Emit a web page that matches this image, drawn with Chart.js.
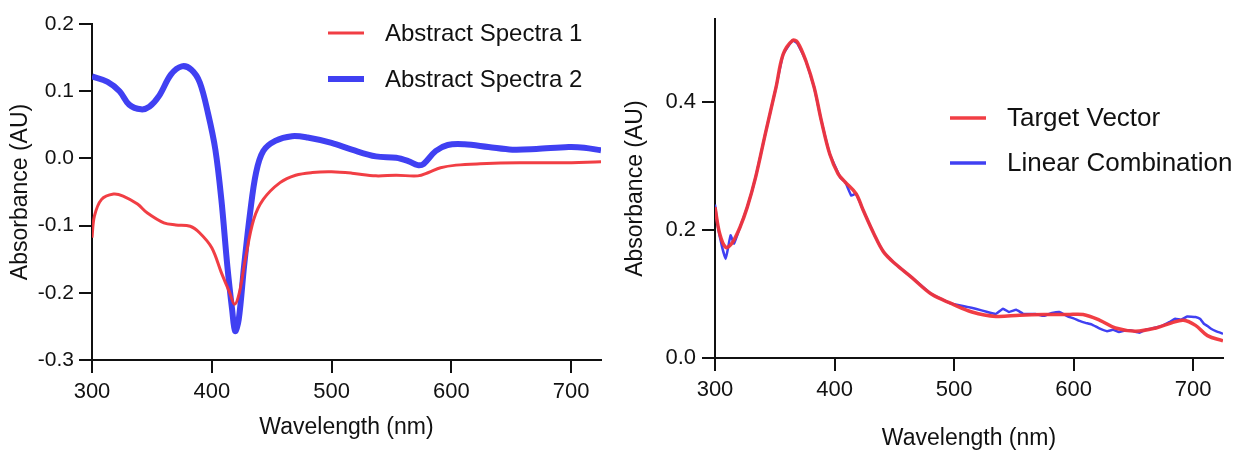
<!DOCTYPE html>
<html>
<head>
<meta charset="utf-8">
<script src="https://cdn.jsdelivr.net/npm/chart.js@4"></script>
<style>
  body { margin: 0; background: #fff; }
  .wrap { position: absolute; top: 0; height: 452px; }
</style>
</head>
<body>
<div class="wrap" style="left:0;width:620px"><canvas id="abstractChart"></canvas></div>
<div class="wrap" style="left:620px;width:627px"><canvas id="fitChart"></canvas></div>
<script>
// left panel: abstract spectra
const spec1X = [300,302,308,318,326,338,346,360,370,382,390,400,408,415,419,423,428,435,443,457,470,484,500,517,537,554,572,581,591,604,624,657,691,725];
const spec1Y = [-0.118,-0.086,-0.061,-0.053,-0.056,-0.068,-0.081,-0.096,-0.099,-0.101,-0.111,-0.133,-0.170,-0.200,-0.217,-0.200,-0.150,-0.091,-0.061,-0.036,-0.025,-0.021,-0.020,-0.022,-0.026,-0.025,-0.026,-0.021,-0.014,-0.010,-0.008,-0.0065,-0.0065,-0.005];

const spec2X = [300,313,323,331,341,348,356,366,375,383,390,397,403,408,413,417,419.5,422.5,427,432,437,443,453,467,480,500,517,537,554,564,572,577,587,597,611,631,651,671,698,711,725];
const spec2Y = [0.122,0.114,0.100,0.080,0.073,0.077,0.093,0.125,0.137,0.132,0.113,0.066,0.013,-0.061,-0.160,-0.225,-0.257,-0.240,-0.160,-0.081,-0.021,0.011,0.026,0.033,0.031,0.023,0.013,0.003,0.001,-0.004,-0.010,-0.008,0.011,0.020,0.021,0.017,0.013,0.014,0.017,0.016,0.012];

// right panel: target vs fit
const targetX = [300,304,309,314,321,327,334,342,351,357,365,369,376,383,389,396,403,409,418,424,433,441,451,464,481,498,515,535,555,575,595,608,622,635,652,669,682,692,702,712,725];
const targetY = [0.236,0.194,0.173,0.179,0.205,0.236,0.283,0.350,0.423,0.475,0.497,0.494,0.465,0.423,0.371,0.319,0.288,0.275,0.257,0.231,0.194,0.166,0.147,0.127,0.100,0.085,0.072,0.065,0.067,0.068,0.068,0.068,0.059,0.047,0.042,0.047,0.055,0.059,0.051,0.035,0.027];

const comboX = [300,302,306,309,311,313,316,321,327,334,342,351,357,365,369,376,383,389,396,401,405,409,414,418,424,433,441,451,464,481,498,511,518,528,535,541,546,552,558,568,575,582,588,595,600,605,610,615,622,628,633,638,643,648,655,660,665,670,675,680,685,690,695,702,706,709,712,715,719,725];
const comboY = [0.240,0.210,0.173,0.155,0.173,0.192,0.179,0.205,0.236,0.283,0.350,0.423,0.475,0.497,0.492,0.465,0.423,0.371,0.319,0.298,0.282,0.275,0.254,0.257,0.231,0.194,0.166,0.147,0.127,0.100,0.085,0.080,0.077,0.072,0.069,0.077,0.072,0.0755,0.069,0.069,0.066,0.0703,0.072,0.065,0.062,0.058,0.055,0.0526,0.0458,0.042,0.044,0.0406,0.043,0.0432,0.0396,0.044,0.0458,0.048,0.051,0.056,0.0615,0.060,0.065,0.064,0.061,0.0536,0.050,0.0458,0.042,0.038];

const xTicks = [300,400,500,600,700];
const leftYTicks = [-0.3,-0.2,-0.1,0.0,0.1,0.2];
const rightYTicks = [0.0,0.2,0.4];

const FONT = "'Liberation Sans', Arial, sans-serif";
const RED = "rgba(240,52,58,0.95)";
const BLUE = "#4040f2";

function pts(xs, ys) { return xs.map((x, i) => ({ x: x, y: ys[i] })); }

// little legend drawn inside plot area
const spotLegend = {
  id: "spotLegend",
  afterDraw(chart, args, opts) {
    const c = chart.ctx;
    c.save();
    c.font = opts.size + "px " + FONT;
    c.textBaseline = "middle";
    chart.data.datasets.forEach((ds, i) => {
      const y = opts.y + i * opts.gap;
      c.strokeStyle = ds.borderColor;
      c.lineWidth = ds.legendWidth || ds.borderWidth;
      c.beginPath();
      c.moveTo(opts.x, y);
      c.lineTo(opts.x + 36, y);
      c.stroke();
      c.fillStyle = "#111";
      c.fillText(ds.label, opts.x + 57, y + 1);
    });
    c.restore();
  }
};

function makeScales(yMin, yMax, yTickList, cfg) {
  const axisCommon = {
    type: "linear",
    grid: { display: true, drawOnChartArea: false, drawTicks: true, tickLength: 13, color: "#111", lineWidth: 2 },
    border: { display: true, color: "#111", width: 2 },
  };
  return {
    x: Object.assign({}, axisCommon, {
      min: 300, max: 725,
      afterBuildTicks: s => { s.ticks = xTicks.map(v => ({ value: v })); },
      afterFit: s => { s.height = cfg.xHeight; },
      ticks: { color: "#111", font: { family: FONT, size: cfg.xTick }, padding: cfg.xTickPad, maxRotation: 0, callback: v => String(v) },
      title: { display: true, text: "Wavelength (nm)", color: "#111", font: { family: FONT, size: cfg.title }, padding: { top: cfg.xTitlePad, bottom: cfg.xTitlePad } }
    }),
    y: Object.assign({}, axisCommon, {
      min: yMin, max: yMax,
      afterBuildTicks: s => { s.ticks = yTickList.map(v => ({ value: v })); },
      afterFit: s => { s.width = cfg.yWidth; },
      ticks: { color: "#111", font: { family: FONT, size: cfg.yTick }, padding: cfg.yTickPad, callback: v => v.toFixed(1) },
      title: { display: true, text: "Absorbance (AU)", color: "#111", font: { family: FONT, size: cfg.title }, padding: { top: cfg.yTitlePad, bottom: cfg.yTitlePad } }
    })
  };
}

new Chart(document.getElementById("abstractChart"), {
  type: "line",
  data: {
    datasets: [
      { label: "Abstract Spectra 1", data: pts(spec1X, spec1Y), borderColor: RED, borderWidth: 3, tension: 0.35 },
      { label: "Abstract Spectra 2", data: pts(spec2X, spec2Y), borderColor: BLUE, borderWidth: 6, tension: 0.35 }
    ]
  },
  options: {
    responsive: true, maintainAspectRatio: false, animation: false,
    layout: { padding: { top: 24, right: 19, left: 0, bottom: 0 } },
    elements: { point: { radius: 0 } },
    plugins: { legend: { display: false }, tooltip: { enabled: false },
      spotLegend: { x: 328, y: 33, gap: 46, size: 24 } },
    scales: makeScales(-0.3, 0.2, leftYTicks, { xHeight: 92, yWidth: 92, xTick: 22, yTick: 21, title: 23, xTitlePad: 11, yTitlePad: 7, xTickPad: 6, yTickPad: 5 })
  },
  plugins: [spotLegend]
});

new Chart(document.getElementById("fitChart"), {
  type: "line",
  data: {
    datasets: [
      { label: "Target Vector", data: pts(targetX, targetY), borderColor: RED, borderWidth: 3.5, tension: 0.35 },
      { label: "Linear Combination", data: pts(comboX, comboY), borderColor: BLUE, borderWidth: 2.5, legendWidth: 3.5, tension: 0.1 }
    ]
  },
  options: {
    responsive: true, maintainAspectRatio: false, animation: false,
    layout: { padding: { top: 18, right: 24, left: 0, bottom: 0 } },
    elements: { point: { radius: 0 } },
    plugins: { legend: { display: false }, tooltip: { enabled: false },
      spotLegend: { x: 330, y: 118, gap: 45, size: 26 } },
    scales: makeScales(0, 0.53, rightYTicks, { xHeight: 94, yWidth: 95, xTick: 22, yTick: 22, title: 23, xTitlePad: 0, yTitlePad: 2, xTickPad: 6, yTickPad: 6 })
  },
  plugins: [spotLegend]
});
</script>
</body>
</html>
